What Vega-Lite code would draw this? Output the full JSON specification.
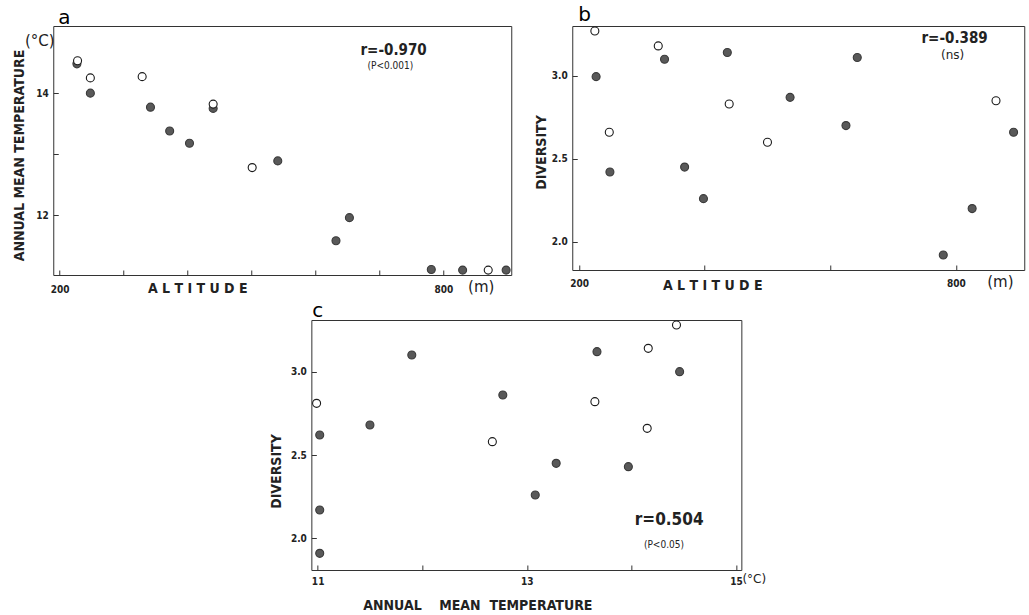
{
  "$schema": "https://vega.github.io/schema/vega-lite/v6.json",
  "background": "white",
  "padding": {"left": 11, "top": 4, "right": 5, "bottom": 5},
  "spacing": 4,
  "center": true,
  "datasets": {
    "a": [
      {"altitude": 227, "temperature": 14.48, "type": "filled"},
      {"altitude": 248, "temperature": 14.0, "type": "filled"},
      {"altitude": 342, "temperature": 13.77, "type": "filled"},
      {"altitude": 372, "temperature": 13.38, "type": "filled"},
      {"altitude": 403, "temperature": 13.18, "type": "filled"},
      {"altitude": 440, "temperature": 13.75, "type": "filled"},
      {"altitude": 541, "temperature": 12.89, "type": "filled"},
      {"altitude": 632, "temperature": 11.58, "type": "filled"},
      {"altitude": 653, "temperature": 11.96, "type": "filled"},
      {"altitude": 781, "temperature": 11.11, "type": "filled"},
      {"altitude": 830, "temperature": 11.1, "type": "filled"},
      {"altitude": 898, "temperature": 11.1, "type": "filled"},
      {"altitude": 228, "temperature": 14.53, "type": "open"},
      {"altitude": 248, "temperature": 14.25, "type": "open"},
      {"altitude": 329, "temperature": 14.27, "type": "open"},
      {"altitude": 440, "temperature": 13.82, "type": "open"},
      {"altitude": 501, "temperature": 12.78, "type": "open"},
      {"altitude": 870, "temperature": 11.1, "type": "open"}
    ],
    "b": [
      {"altitude": 227, "diversity": 2.995, "type": "filled"},
      {"altitude": 249, "diversity": 2.42, "type": "filled"},
      {"altitude": 336, "diversity": 3.1, "type": "filled"},
      {"altitude": 368, "diversity": 2.45, "type": "filled"},
      {"altitude": 398, "diversity": 2.26, "type": "filled"},
      {"altitude": 436, "diversity": 3.14, "type": "filled"},
      {"altitude": 536, "diversity": 2.87, "type": "filled"},
      {"altitude": 625, "diversity": 2.7, "type": "filled"},
      {"altitude": 643, "diversity": 3.11, "type": "filled"},
      {"altitude": 780, "diversity": 1.92, "type": "filled"},
      {"altitude": 826, "diversity": 2.2, "type": "filled"},
      {"altitude": 892, "diversity": 2.66, "type": "filled"},
      {"altitude": 225, "diversity": 3.27, "type": "open"},
      {"altitude": 248, "diversity": 2.66, "type": "open"},
      {"altitude": 326, "diversity": 3.18, "type": "open"},
      {"altitude": 439, "diversity": 2.83, "type": "open"},
      {"altitude": 500, "diversity": 2.6, "type": "open"},
      {"altitude": 864, "diversity": 2.85, "type": "open"}
    ],
    "c": [
      {"temperature": 11.02, "diversity": 2.62, "type": "filled"},
      {"temperature": 11.02, "diversity": 2.17, "type": "filled"},
      {"temperature": 11.02, "diversity": 1.91, "type": "filled"},
      {"temperature": 11.5, "diversity": 2.68, "type": "filled"},
      {"temperature": 11.9, "diversity": 3.1, "type": "filled"},
      {"temperature": 12.77, "diversity": 2.86, "type": "filled"},
      {"temperature": 13.08, "diversity": 2.26, "type": "filled"},
      {"temperature": 13.28, "diversity": 2.45, "type": "filled"},
      {"temperature": 13.67, "diversity": 3.12, "type": "filled"},
      {"temperature": 13.97, "diversity": 2.43, "type": "filled"},
      {"temperature": 14.46, "diversity": 3.0, "type": "filled"},
      {"temperature": 10.99, "diversity": 2.81, "type": "open"},
      {"temperature": 12.67, "diversity": 2.58, "type": "open"},
      {"temperature": 13.65, "diversity": 2.82, "type": "open"},
      {"temperature": 14.16, "diversity": 3.14, "type": "open"},
      {"temperature": 14.15, "diversity": 2.66, "type": "open"},
      {"temperature": 14.43, "diversity": 3.28, "type": "open"}
    ],
    "one": [{}]
  },
  "vconcat": [
    {
      "spacing": 20,
      "hconcat": [
        {
          "title": {"text": "a", "anchor": "start", "frame": "group", "fontSize": 20, "font": "DejaVu Sans", "fontWeight": "normal", "dx": 5, "offset": -2},
          "width": 458,
          "height": 249,
          "layer": [
            {
              "data": {"name": "a"},
              "mark": {"type": "point", "filled": false, "size": 64, "strokeWidth": 1.1, "opacity": 1},
              "encoding": {
                "x": {"field": "altitude", "type": "quantitative",
                  "scale": {"domain": [190, 906], "nice": false, "zero": false},
                  "axis": {"title": "A L T I T U D E", "values": [200, 300, 400, 500, 600, 700, 800], "format": "d",
                    "labelExpr": "datum.value == 200 || datum.value == 800 ? datum.label : ''", "labelPadding": 14,
                    "titleX": 144, "titleY": 13, "titleBaseline": "middle", "titleAlign": "center"}},
                "y": {"field": "temperature", "type": "quantitative",
                  "scale": {"domain": [11.02, 15.1], "nice": false, "zero": false},
                  "axis": {"title": "ANNUAL MEAN TEMPERATURE", "values": [12, 13, 14], "format": "d",
                    "labelExpr": "datum.value == 13 ? '' : datum.label",
                    "titleX": -34, "titleY": 129, "titleBaseline": "middle", "titleAlign": "center"}},
                "fill": {"field": "type", "type": "nominal", "scale": {"domain": ["filled", "open"], "range": ["#595959", "#ffffff"]}, "legend": null},
                "stroke": {"field": "type", "type": "nominal", "scale": {"domain": ["filled", "open"], "range": ["#3a3a3a", "#1a1a1a"]}, "legend": null}
              }
            },
            {
              "data": {"name": "one"},
              "mark": {"type": "text", "text": "r=-0.970", "font": "DejaVu Sans Condensed", "fontWeight": "bold", "fontSize": 15, "align": "center", "baseline": "alphabetic", "color": "#222"},
              "encoding": {"x": {"datum": 722, "type": "quantitative"}, "y": {"datum": 14.62, "type": "quantitative"}}
            },
            {
              "data": {"name": "one"},
              "mark": {"type": "text", "text": "(P<0.001)", "font": "DejaVu Sans Condensed", "fontSize": 10, "align": "center", "baseline": "top", "color": "#222"},
              "encoding": {"x": {"datum": 717, "type": "quantitative"}, "y": {"datum": 14.53, "type": "quantitative"}}
            },
            {
              "data": {"name": "one"},
              "mark": {"type": "text", "text": "(°C)", "font": "DejaVu Sans", "fontSize": 15, "align": "center", "baseline": "middle", "color": "#222"},
              "encoding": {"x": {"datum": 169, "type": "quantitative"}, "y": {"datum": 14.85, "type": "quantitative"}}
            },
            {
              "data": {"name": "one"},
              "mark": {"type": "text", "text": "(m)", "font": "DejaVu Sans", "fontSize": 15, "align": "center", "baseline": "middle", "color": "#222"},
              "encoding": {"x": {"datum": 859, "type": "quantitative"}, "y": {"datum": 10.83, "type": "quantitative"}}
            }
          ]
        },
        {
          "title": {"text": "b", "anchor": "start", "frame": "group", "fontSize": 20, "font": "DejaVu Sans", "fontWeight": "normal", "dx": 6, "offset": 0},
          "width": 452,
          "height": 244,
          "layer": [
            {
              "data": {"name": "b"},
              "mark": {"type": "point", "filled": false, "size": 64, "strokeWidth": 1.1, "opacity": 1},
              "encoding": {
                "x": {"field": "altitude", "type": "quantitative",
                  "scale": {"domain": [189, 909], "nice": false, "zero": false},
                  "axis": {"title": "A L T I T U D E", "values": [200, 400, 600, 800], "format": "d",
                    "labelExpr": "datum.value == 200 || datum.value == 800 ? datum.label : ''", "labelPadding": 13,
                    "titleX": 140, "titleY": 15, "titleBaseline": "middle", "titleAlign": "center"}},
                "y": {"field": "diversity", "type": "quantitative",
                  "scale": {"domain": [1.83, 3.3], "nice": false, "zero": false},
                  "axis": {"title": "DIVERSITY", "values": [2.0, 2.5, 3.0], "format": ".1f",
                    "titleX": -31, "titleY": 126, "titleBaseline": "middle", "titleAlign": "center"}},
                "fill": {"field": "type", "type": "nominal", "scale": {"domain": ["filled", "open"], "range": ["#595959", "#ffffff"]}, "legend": null},
                "stroke": {"field": "type", "type": "nominal", "scale": {"domain": ["filled", "open"], "range": ["#3a3a3a", "#1a1a1a"]}, "legend": null}
              }
            },
            {
              "data": {"name": "one"},
              "mark": {"type": "text", "text": "r=-0.389", "font": "DejaVu Sans Condensed", "fontWeight": "bold", "fontSize": 15, "align": "center", "baseline": "middle", "color": "#222"},
              "encoding": {"x": {"datum": 798, "type": "quantitative"}, "y": {"datum": 3.225, "type": "quantitative"}}
            },
            {
              "data": {"name": "one"},
              "mark": {"type": "text", "text": "(ns)", "font": "DejaVu Sans", "fontSize": 12, "align": "center", "baseline": "middle", "color": "#222"},
              "encoding": {"x": {"datum": 795, "type": "quantitative"}, "y": {"datum": 3.125, "type": "quantitative"}}
            },
            {
              "data": {"name": "one"},
              "mark": {"type": "text", "text": "(m)", "font": "DejaVu Sans", "fontSize": 15, "align": "center", "baseline": "middle", "color": "#222"},
              "encoding": {"x": {"datum": 871, "type": "quantitative"}, "y": {"datum": 1.76, "type": "quantitative"}}
            }
          ]
        }
      ]
    },
    {
      "title": {"text": "c", "anchor": "start", "frame": "group", "fontSize": 20, "font": "DejaVu Sans", "fontWeight": "normal", "dx": 1, "offset": -2},
      "width": 430,
      "height": 250,
      "layer": [
        {
          "data": {"name": "c"},
          "mark": {"type": "point", "filled": false, "size": 64, "strokeWidth": 1.1, "opacity": 1},
          "encoding": {
            "x": {"field": "temperature", "type": "quantitative",
              "scale": {"domain": [10.94, 15.05], "nice": false, "zero": false},
              "axis": {"title": "ANNUAL\u00a0\u00a0\u00a0 MEAN\u00a0 TEMPERATURE", "values": [11, 12, 13, 14, 15], "format": "d",
                "labelExpr": "datum.value == 12 || datum.value == 14 ? '' : datum.label", "labelPadding": 11,
                "titleX": 166, "titleY": 35, "titleBaseline": "middle", "titleAlign": "center"}},
            "y": {"field": "diversity", "type": "quantitative",
              "scale": {"domain": [1.81, 3.31], "nice": false, "zero": false},
              "axis": {"title": "DIVERSITY", "values": [2.0, 2.5, 3.0], "format": ".1f",
                "titleX": -35, "titleY": 151, "titleBaseline": "middle", "titleAlign": "center"}},
            "fill": {"field": "type", "type": "nominal", "scale": {"domain": ["filled", "open"], "range": ["#595959", "#ffffff"]}, "legend": null},
            "stroke": {"field": "type", "type": "nominal", "scale": {"domain": ["filled", "open"], "range": ["#3a3a3a", "#1a1a1a"]}, "legend": null}
          }
        },
        {
          "data": {"name": "one"},
          "mark": {"type": "text", "text": "r=0.504", "font": "DejaVu Sans Condensed", "fontWeight": "bold", "fontSize": 17, "align": "center", "baseline": "middle", "color": "#222"},
          "encoding": {"x": {"datum": 14.36, "type": "quantitative"}, "y": {"datum": 2.11, "type": "quantitative"}}
        },
        {
          "data": {"name": "one"},
          "mark": {"type": "text", "text": "(P<0.05)", "font": "DejaVu Sans Condensed", "fontSize": 10, "align": "center", "baseline": "middle", "color": "#222"},
          "encoding": {"x": {"datum": 14.31, "type": "quantitative"}, "y": {"datum": 1.96, "type": "quantitative"}}
        },
        {
          "data": {"name": "one"},
          "mark": {"type": "text", "text": "(°C)", "font": "DejaVu Sans", "fontSize": 12, "align": "left", "baseline": "middle", "color": "#222"},
          "encoding": {"x": {"datum": 15.06, "type": "quantitative"}, "y": {"datum": 1.755, "type": "quantitative"}}
        }
      ]
    }
  ],
  "config": {
    "view": {"stroke": "#333", "strokeWidth": 1},
    "axis": {
      "domain": false,
      "grid": false,
      "ticks": true,
      "tickSize": -5,
      "tickColor": "#333",
      "tickWidth": 1,
      "labelPadding": 10,
      "labelFont": "DejaVu Sans Condensed",
      "labelFontWeight": "bold",
      "labelFontSize": 10,
      "labelColor": "#222",
      "titleFont": "DejaVu Sans Condensed",
      "titleFontWeight": "bold",
      "titleFontSize": 14,
      "titleColor": "#222"
    }
  }
}
